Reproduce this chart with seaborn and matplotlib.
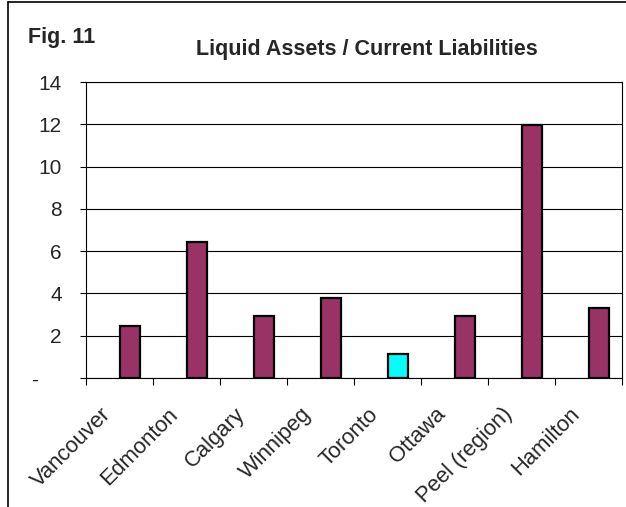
import pandas as pd
import matplotlib
matplotlib.use('Agg')
import matplotlib.pyplot as plt
import matplotlib.transforms as mtransforms
from matplotlib.lines import Line2D
import seaborn as sns

# data
cities = ['Vancouver', 'Edmonton', 'Calgary', 'Winnipeg', 'Toronto',
          'Ottawa', 'Peel (region)', 'Hamilton']
ratios = [2.47, 6.45, 2.95, 3.78, 1.12, 2.95, 11.95, 3.3]
highlight = 'Toronto'
ytick_vals = [0, 2, 4, 6, 8, 10, 12, 14]
ytick_labels = ['-    ', '2', '4', '6', '8', '10', '12', '14']

df = pd.DataFrame({'City': cities, 'Ratio': ratios, 'Series': 'Ratio'})

sns.set_style('white')
plt.rcParams['font.family'] = ['Liberation Sans', 'DejaVu Sans']

W, H = 626, 507
fig = plt.figure(figsize=(W / 100, H / 100), dpi=100)
ax = fig.add_axes([86 / W, 1 - 378 / H, (622 - 86) / W, (378 - 82) / H])

# an empty first series keeps the bars off-centre like the original Excel chart
sns.barplot(data=df, x='City', y='Ratio', hue='Series', order=cities,
            hue_order=['gap', 'Ratio'], palette={'gap': '#993366', 'Ratio': '#993366'},
            width=0.6, dodge=True, edgecolor='black', linewidth=1.6,
            legend=False, ax=ax, zorder=3)

for bar in ax.patches:
    bar.set_facecolor('#993366')
# recolour Toronto
for bar, city in zip([p for p in ax.patches if p.get_height() > 0], cities):
    if city == highlight:
        bar.set_facecolor('#00FFFF')

ax.set_xlim(-0.5, len(cities) - 0.5)
ax.set_ylim(0, 14)
ax.set_yticks(ytick_vals)
ax.set_yticklabels(ytick_labels, fontsize=15)
ax.yaxis.grid(True, color='black', linewidth=0.8)
ax.set_axisbelow(True)
ax.set_xlabel('')
ax.set_ylabel('')

# category boundary tick marks
ax.set_xticks([i - 0.5 for i in range(len(cities) + 1)], minor=True)
ax.tick_params(axis='x', which='minor', direction='out', length=5, width=0.8,
               color='black', bottom=True)
ax.tick_params(axis='x', which='major', length=0, pad=24)
ax.tick_params(axis='y', which='major', direction='out', length=4.5, width=0.8,
               color='black', left=True, pad=13)
ax.set_xticks(range(len(cities)))
ax.set_xticklabels(cities, fontsize=15.8, rotation=45, ha='right', va='center',
                   rotation_mode='anchor')
shift = mtransforms.ScaledTranslation(-12 / 100, 0, fig.dpi_scale_trans)
for lab in ax.get_xticklabels():
    lab.set_transform(lab.get_transform() + shift)

for side in ['left', 'bottom', 'top', 'right']:
    ax.spines[side].set_visible(True)
    ax.spines[side].set_color('black')
    ax.spines[side].set_linewidth(0.8)

fig.text(28 / W, 1 - 43 / H, 'Fig. 11', fontsize=15.5, fontweight='bold',
         ha='left', va='baseline')
fig.text(367 / W, 1 - 55 / H, 'Liquid Assets / Current Liabilities', fontsize=15.5,
         fontweight='bold', ha='center', va='baseline')

# outer chart border (cropped on the right and bottom in the original)
fig.add_artist(Line2D([7.5 / W, 7.5 / W], [0, 1 - 1.5 / H], color='black',
                      linewidth=1.2, transform=fig.transFigure))
fig.add_artist(Line2D([7.5 / W, 1], [1 - 1.5 / H, 1 - 1.5 / H], color='black',
                      linewidth=1.2, transform=fig.transFigure))

fig.savefig('out.png', dpi=100)
